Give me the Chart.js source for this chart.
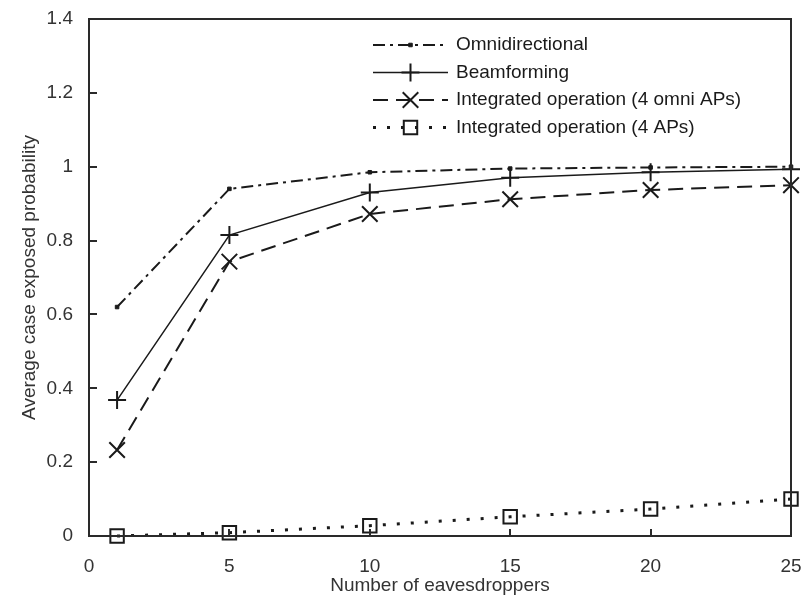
<!DOCTYPE html>
<html>
<head>
<meta charset="utf-8">
<script src="https://cdn.jsdelivr.net/npm/chart.js@4/dist/chart.umd.min.js"></script>
<style>
  html, body { margin: 0; padding: 0; background: #fff; }
  #wrap { width: 807px; height: 597px; }
</style>
</head>
<body>
<div id="wrap"><canvas id="c" width="807" height="597"></canvas></div>
<script>
// Number of eavesdroppers (x values)
const eavesdroppers = [1, 5, 10, 15, 20, 25];

// Average case exposed probability per scheme
const omnidirectional = [0.62, 0.94, 0.985, 0.995, 0.998, 1.0];
const beamforming     = [0.368, 0.815, 0.93, 0.97, 0.985, 0.993];
const integratedOmni  = [0.233, 0.743, 0.872, 0.912, 0.937, 0.95];
const integratedAPs   = [0.0, 0.009, 0.028, 0.052, 0.073, 0.1];

const seriesNames = [
  'Omnidirectional',
  'Beamforming',
  'Integrated operation (4 omni APs)',
  'Integrated operation (4 APs)'
];

const xTicks = [0, 5, 10, 15, 20, 25];
const yTicks = [0, 0.2, 0.4, 0.6, 0.8, 1, 1.2, 1.4];

const INK = '#1a1a1a';
const FONT = 'Liberation Sans, Arial, sans-serif';

const toPoints = ys => eavesdroppers.map((x, i) => ({ x, y: ys[i] }));

// Keep tick labels from pushing the plot area inwards
const noOverhang = s => {
  s.paddingLeft = 0; s.paddingRight = 0; s.paddingTop = 0; s.paddingBottom = 0;
};

// Frame around the plotting area
const framePlugin = {
  id: 'frame',
  afterDatasetsDraw(chart) {
    const { ctx, chartArea: a } = chart;
    ctx.save();
    ctx.strokeStyle = '#2a2a2a';
    ctx.lineWidth = 2;
    ctx.strokeRect(a.left, a.top, a.right - a.left, a.bottom - a.top);
    ctx.restore();
  }
};

// Short tick marks pointing into the plot
const innerTicksPlugin = {
  id: 'innerTicks',
  afterDatasetsDraw(chart) {
    const { ctx, chartArea: a, scales } = chart;
    ctx.save();
    ctx.strokeStyle = '#2a2a2a';
    ctx.lineWidth = 2;
    ctx.beginPath();
    yTicks.forEach(v => {
      const py = Math.round(scales.y.getPixelForValue(v));
      ctx.moveTo(a.left, py);
      ctx.lineTo(a.left + 8, py);
    });
    xTicks.forEach(v => {
      const px = Math.round(scales.x.getPixelForValue(v));
      ctx.moveTo(px, a.bottom);
      ctx.lineTo(px, a.bottom - 7);
    });
    ctx.stroke();
    ctx.restore();
  }
};

// Legend with line samples (dash pattern + marker) inside the plot
const lineLegendPlugin = {
  id: 'lineLegend',
  afterDraw(chart) {
    const { ctx } = chart;
    const x0 = 373, lineLen = 75, y0 = 45, rowGap = 27.5, textGap = 8;
    ctx.save();
    chart.data.datasets.forEach((ds, i) => {
      const y = y0 + i * rowGap;
      ctx.strokeStyle = ds.borderColor;
      ctx.lineWidth = ds.borderWidth;
      ctx.setLineDash(ds.borderDash || []);
      ctx.beginPath();
      ctx.moveTo(x0, y);
      ctx.lineTo(x0 + lineLen, y);
      ctx.stroke();
      ctx.setLineDash([]);
      if (ds.pointRadius > 0) {
        ctx.strokeStyle = ds.pointBorderColor;
        ctx.fillStyle = ds.pointBackgroundColor;
        ctx.lineWidth = ds.pointBorderWidth;
        Chart.helpers.drawPoint(ctx, {
          pointStyle: ds.pointStyle,
          radius: ds.pointRadius,
          rotation: 0,
          borderWidth: ds.pointBorderWidth
        }, x0 + lineLen / 2, y);
      }
      ctx.fillStyle = INK;
      ctx.font = '19px ' + FONT;
      ctx.textBaseline = 'middle';
      ctx.textAlign = 'left';
      ctx.fillText(seriesNames[i], x0 + lineLen + textGap, y);
    });
    ctx.restore();
  }
};

const common = {
  borderColor: INK,
  pointBorderColor: INK,
  fill: false,
  tension: 0,
  clip: false
};

new Chart(document.getElementById('c'), {
  type: 'line',
  data: {
    datasets: [
      Object.assign({}, common, {
        label: seriesNames[0],
        data: toPoints(omnidirectional),
        borderWidth: 2,
        borderDash: [12, 5, 3, 5],
        pointStyle: 'rect',
        pointRadius: 2.5,
        pointBorderWidth: 1,
        pointBackgroundColor: INK
      }),
      Object.assign({}, common, {
        label: seriesNames[1],
        data: toPoints(beamforming),
        borderWidth: 1.5,
        borderDash: [],
        pointStyle: 'cross',
        pointRadius: 9,
        pointBorderWidth: 2,
        pointBackgroundColor: 'rgba(0,0,0,0)'
      }),
      Object.assign({}, common, {
        label: seriesNames[2],
        data: toPoints(integratedOmni),
        borderWidth: 2,
        borderDash: [15, 8],
        pointStyle: 'crossRot',
        pointRadius: 11,
        pointBorderWidth: 2,
        pointBackgroundColor: 'rgba(0,0,0,0)'
      }),
      Object.assign({}, common, {
        label: seriesNames[3],
        data: toPoints(integratedAPs),
        borderWidth: 3,
        borderDash: [3, 11],
        pointStyle: 'rect',
        pointRadius: 9.5,
        pointBorderWidth: 2,
        pointBackgroundColor: 'rgba(0,0,0,0)'
      })
    ]
  },
  options: {
    responsive: false,
    animation: false,
    devicePixelRatio: 1,
    layout: { padding: { top: 19, right: 16, left: 0, bottom: 0 } },
    plugins: {
      legend: { display: false },
      tooltip: { enabled: false }
    },
    scales: {
      x: {
        type: 'linear',
        min: 0,
        max: 25,
        afterBuildTicks: s => { s.ticks = xTicks.map(v => ({ value: v })); },
        afterFit: s => { s.height = 61; noOverhang(s); },
        grid: { display: false, drawTicks: false },
        border: { display: false },
        ticks: {
          padding: 19,
          color: '#333',
          font: { family: FONT, size: 19 },
          maxRotation: 0
        },
        title: {
          display: true,
          text: 'Number of eavesdroppers',
          color: '#333',
          font: { family: FONT, size: 19 },
          padding: { top: 0, bottom: 0 }
        }
      },
      y: {
        type: 'linear',
        min: 0,
        max: 1.4,
        afterBuildTicks: s => { s.ticks = yTicks.map(v => ({ value: v })); },
        afterFit: s => { s.width = 89; noOverhang(s); },
        grid: { display: false, drawTicks: false },
        border: { display: false },
        ticks: {
          padding: 16,
          color: '#333',
          font: { family: FONT, size: 19 },
          callback: v => String(Number(v.toFixed(1)))
        },
        title: {
          display: true,
          text: 'Average case exposed probability',
          color: '#333',
          font: { family: FONT, size: 19 },
          padding: { top: 18, bottom: 0 }
        }
      }
    }
  },
  plugins: [framePlugin, innerTicksPlugin, lineLegendPlugin]
});
</script>
</body>
</html>
